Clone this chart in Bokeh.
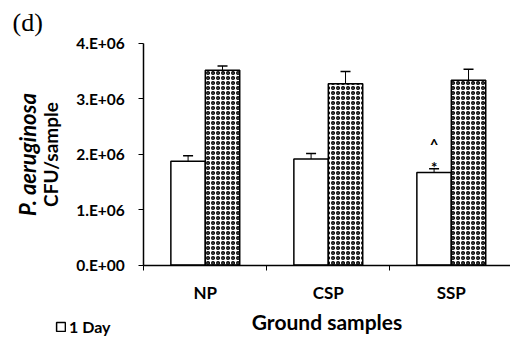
from bokeh.plotting import figure
from bokeh.models import (ColumnDataSource, Range1d, FixedTicker, Whisker, TeeHead,
                          LinearAxis, Legend, LegendItem, Label)
from bokeh.core.properties import value
from bokeh.embed import file_html
from bokeh.resources import INLINE

# ---- data ----
categories = ["NP", "CSP", "SSP"]
day1_mean = [1.87e6, 1.91e6, 1.67e6]
day1_err = [0.10e6, 0.10e6, 0.065e6]
day3_mean = [3.51e6, 3.27e6, 3.33e6]
day3_err = [0.08e6, 0.22e6, 0.20e6]
y_ticks = [0, 1e6, 2e6, 3e6, 4e6]
y_tick_labels = ["0.E+00", "1.E+06", "2.E+06", "3.E+06", "4.E+06"]
sig_marks = ["*", "^"]          # significance marks on SSP 1 Day
sig_offsets = [0.04e6, 0.445e6]
sig_index = 2

FONT = "Lato"
n = len(categories)
idx = list(range(n))
x1 = [i + 0.36 for i in idx]
x3 = [i + 0.64 for i in idx]

W, H = 510, 344
PX_X = 123.0            # pixels per category
PX_Y = 55.45e-6         # pixels per CFU
X0, Y0 = 143.3, 264.5   # axis origin inside the canvas

src1 = ColumnDataSource(dict(x=x1, top=day1_mean,
                             up=[m + e for m, e in zip(day1_mean, day1_err)]))
src3 = ColumnDataSource(dict(x=x3, top=day3_mean,
                             up=[m + e for m, e in zip(day3_mean, day3_err)]))

p = figure(width=W, height=H, output_backend="svg", toolbar_location=None,
           x_range=Range1d(-X0 / PX_X, (W - X0) / PX_X),
           y_range=Range1d(-(H - Y0) / PX_Y, Y0 / PX_Y),
           min_border=0, x_axis_type=None, y_axis_type=None)
p.outline_line_color = None
p.grid.visible = False

r1 = p.vbar(x="x", top="top", bottom=0, width=0.28, source=src1,
            fill_color="white", line_color="black", line_width=1.5)
r3 = p.vbar(x="x", top="top", bottom=0, width=0.28, source=src3,
            fill_color="white", line_color="black", line_width=1.5,
            hatch_pattern="o", hatch_scale=5, hatch_weight=1.5,
            hatch_color="black")

for s in (src1, src3):
    p.add_layout(Whisker(source=s, base="x", lower="top", upper="up",
                         line_color="black", line_width=1,
                         upper_head=TeeHead(size=10, line_color="black", line_width=1.5),
                         lower_head=None))

# significance marks
base = day1_mean[sig_index] + day1_err[sig_index]
p.text(x=[x1[sig_index]] * len(sig_marks), y=[base + o for o in sig_offsets],
       text=sig_marks, text_align="center", text_baseline="middle",
       text_font=value(FONT), text_font_style="bold", text_font_size="15px",
       text_color="black")

# x axis
xaxis = LinearAxis(ticker=FixedTicker(ticks=[i + 0.5 for i in idx],
                                      minor_ticks=[float(i) for i in range(n + 1)]),
                   major_label_overrides={i + 0.5: c for i, c in zip(idx, categories)},
                   axis_label="Ground samples", fixed_location=0, bounds=(0, n))
xaxis.axis_line_width = 1.5
xaxis.axis_line_color = "black"
xaxis.major_tick_out = 0
xaxis.major_tick_in = 0
xaxis.minor_tick_out = 5
xaxis.minor_tick_in = 0
xaxis.minor_tick_line_color = "black"
xaxis.major_label_standoff = 12
xaxis.major_label_text_font = FONT
xaxis.major_label_text_font_style = "bold"
xaxis.major_label_text_font_size = "17px"
xaxis.major_label_text_color = "black"
xaxis.axis_label_text_font = FONT
xaxis.axis_label_text_font_style = "bold"
xaxis.axis_label_text_font_size = "21px"
xaxis.axis_label_text_color = "black"
xaxis.axis_label_standoff = 2
p.add_layout(xaxis, "below")

# y axis
yaxis = LinearAxis(ticker=FixedTicker(ticks=y_ticks),
                   major_label_overrides={t: l for t, l in zip(y_ticks, y_tick_labels)},
                   axis_label="CFU/sample", fixed_location=0, bounds=(0, y_ticks[-1]))
yaxis.axis_line_width = 1.5
yaxis.axis_line_color = "black"
yaxis.major_tick_out = 5
yaxis.major_tick_in = 0
yaxis.minor_tick_line_color = None
yaxis.major_label_standoff = 14
yaxis.major_label_text_font = FONT
yaxis.major_label_text_font_style = "bold"
yaxis.major_label_text_font_size = "15.5px"
yaxis.major_label_text_color = "black"
yaxis.axis_label_text_font = FONT
yaxis.axis_label_text_font_style = "bold"
yaxis.axis_label_text_font_size = "19px"
yaxis.axis_label_text_color = "black"
yaxis.axis_label_standoff = 11
p.add_layout(yaxis, "left")

yaxis2 = LinearAxis(ticker=FixedTicker(ticks=[]), axis_label="P. aeruginosa",
                    fixed_location=0, bounds=(0, y_ticks[-1]))
yaxis2.axis_line_color = None
yaxis2.major_tick_line_color = None
yaxis2.minor_tick_line_color = None
yaxis2.major_label_text_font_size = "0px"
yaxis2.axis_label_text_font = FONT
yaxis2.axis_label_text_font_style = "bold italic"
yaxis2.axis_label_text_font_size = "22px"
yaxis2.axis_label_text_color = "black"
yaxis2.axis_label_standoff = 103
p.add_layout(yaxis2, "left")

legend = Legend(items=[LegendItem(label="1 Day", renderers=[r1])],
                location=(55, 8), orientation="horizontal",
                glyph_width=11, glyph_height=11, label_standoff=3,
                padding=0, margin=0, border_line_color=None,
                background_fill_alpha=0,
                label_text_font=FONT, label_text_font_style="bold",
                label_text_font_size="16px", label_text_color="black")
p.add_layout(legend, "center")

p.add_layout(Label(x=12, y=H - 7, x_units="screen", y_units="screen", text="(d)",
                   text_font="Liberation Serif", text_font_size="26px",
                   text_baseline="top", text_color="black"))

open("out.html", "w").write(file_html(p, INLINE))
